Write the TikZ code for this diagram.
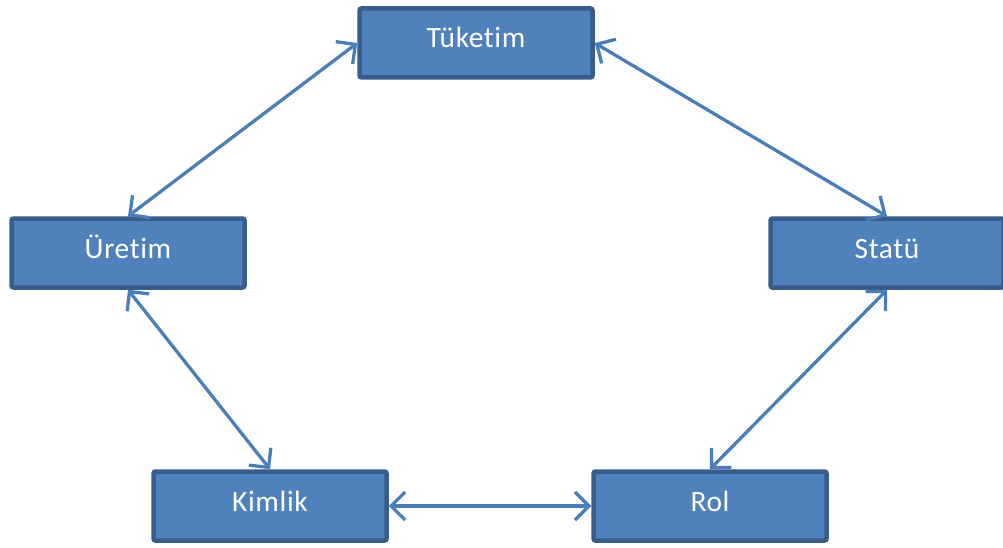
\documentclass[tikz,border=0pt]{standalone}
\usepackage{fontspec}
\setmainfont{Carlito}[Ligatures=NoCommon, LetterSpace=2]
\usetikzlibrary{arrows.meta}
\definecolor{boxfill}{HTML}{4F81BD}
\definecolor{boxline}{HTML}{385D8A}
\definecolor{linkcol}{HTML}{4A7EBB}
\tikzset{
  conceptbox/.style={draw=boxline, fill=boxfill, line width=4.5pt, rounded corners=2pt,
    minimum width=233pt, minimum height=69pt, inner sep=0pt,
    text height=20pt, text depth=10pt,
    text=white, font=\fontsize{29.5}{31}\selectfont},
  link/.style={draw=linkcol, line width=3.3pt,
    {Straight Barb[length=14pt, width=28pt, line width=3.3pt]}-{Straight Barb[length=14pt, width=28pt, line width=3.3pt]}}
}
\begin{document}
\begin{tikzpicture}[x=1pt, y=-1pt]
  \useasboundingbox (0,0) rectangle (1003,548);
  \node[conceptbox] (tuketim) at (476,43)  {Tüketim};
  \node[conceptbox] (uretim)  at (128,253) {Üretim};
  \node[conceptbox] (statu)   at (887,253) {Statü};
  \node[conceptbox] (kimlik)  at (270,506) {Kimlik};
  \node[conceptbox] (rol)     at (710,506) {Rol};
  \draw[link] (tuketim.west) -- (uretim.north);
  \draw[link] (tuketim.east) -- (statu.north);
  \draw[link] (uretim.south) -- (kimlik.north);
  \draw[link] (statu.south)  -- (rol.north);
  \draw[link] (kimlik.east)  -- (rol.west);
\end{tikzpicture}
\end{document}
